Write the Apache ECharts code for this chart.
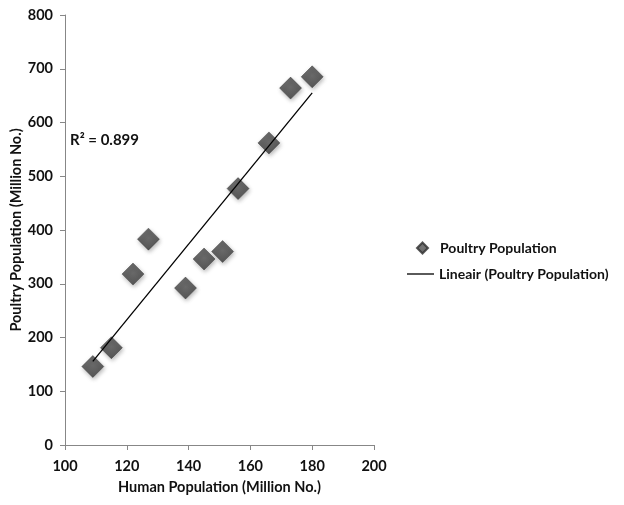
<!DOCTYPE html>
<html>
<head>
<meta charset="utf-8">
<script src="https://cdn.jsdelivr.net/npm/echarts@6/dist/echarts.min.js"></script>
<style>html,body{margin:0;padding:0;background:#fff}#c{width:624px;height:505px}</style>
</head>
<body>
<div id="c"></div>
<script>
var humanPopulation = [109, 115, 122, 127, 139, 145, 151, 156, 166, 173, 180];
var poultryPopulation = [146, 181, 318, 383, 292, 346, 360, 477, 562, 664, 685];
var xTicks = [100, 120, 140, 160, 180, 200];
var yTicks = [0, 100, 200, 300, 400, 500, 600, 700, 800];
var rSquaredLabel = 'R² = 0.899';
var seriesName = 'Poultry Population';
var trendName = 'Lineair (Poultry Population)';

// least-squares trend line computed from the data
var n = humanPopulation.length, mx = 0, my = 0;
for (var i = 0; i < n; i++) { mx += humanPopulation[i]; my += poultryPopulation[i]; }
mx /= n; my /= n;
var sxy = 0, sxx = 0;
for (var i = 0; i < n; i++) { sxy += (humanPopulation[i]-mx)*(poultryPopulation[i]-my); sxx += (humanPopulation[i]-mx)*(humanPopulation[i]-mx); }
var slope = sxy / sxx, intercept = my - slope * mx;
var xMin = Math.min.apply(null, humanPopulation), xMax = Math.max.apply(null, humanPopulation);
var trend = [[xMin, intercept + slope * xMin], [xMax, intercept + slope * xMax]];

var font = 'Lato';
var chart = echarts.init(document.getElementById('c'), null, {renderer: 'canvas'});
chart.setOption({
  animation: false,
  backgroundColor: '#fff',
  grid: {left: 65, right: 250, top: 15, bottom: 60, containLabel: false},
  xAxis: {
    type: 'value', min: xTicks[0], max: xTicks[xTicks.length-1], interval: 20,
    name: 'Human Population (Million No.)', nameLocation: 'middle', nameGap: 35,
    nameTextStyle: {fontFamily: font, fontWeight: 'bold', fontSize: 14.5, color: '#111'},
    axisLine: {lineStyle: {color: '#878787', width: 1}},
    axisTick: {show: true, length: 5, lineStyle: {color: '#878787'}},
    axisLabel: {fontFamily: font, fontWeight: 'bold', fontSize: 14.5, color: '#111', margin: 14},
    splitLine: {show: false}
  },
  yAxis: {
    type: 'value', min: yTicks[0], max: yTicks[yTicks.length-1], interval: 100,
    name: 'Poultry Population (Million No.)', nameLocation: 'middle', nameGap: 34,
    nameTextStyle: {fontFamily: font, fontWeight: 'bold', fontSize: 14.5, color: '#111'},
    axisLine: {show: true, lineStyle: {color: '#878787', width: 1}},
    axisTick: {show: true, length: 5, lineStyle: {color: '#878787'}},
    axisLabel: {fontFamily: font, fontWeight: 'bold', fontSize: 14.5, color: '#111', margin: 12},
    splitLine: {show: false}
  },
  legend: [{
    data: [{name: seriesName, icon: 'diamond'}],
    orient: 'vertical', left: 411, top: 236, itemWidth: 11, itemHeight: 11,
    textStyle: {fontFamily: font, fontWeight: 'bold', fontSize: 14, color: '#111', padding: [0,0,0,7]}
  }, {
    data: [{name: trendName, icon: 'rect', itemStyle: {color: '#000'}}],
    orient: 'vertical', left: 402, top: 262, itemWidth: 27, itemHeight: 1.3,
    textStyle: {fontFamily: font, fontWeight: 'bold', fontSize: 14, color: '#111'}
  }],
  graphic: [{
    type: 'text', left: 70, top: 133,
    style: {text: rSquaredLabel, font: 'bold 15px Lato', fill: '#111'}
  }],
  series: [{
    name: seriesName, type: 'scatter', symbol: 'diamond', symbolSize: 22,
    data: humanPopulation.map(function (x, i) { return [x, poultryPopulation[i]]; }),
    itemStyle: {
      color: {type: 'radial', x: 0.5, y: 0.45, r: 0.6, colorStops: [{offset: 0, color: '#555'}, {offset: 0.7, color: '#404040'}, {offset: 1, color: '#262626'}]},
      borderColor: '#303030', borderWidth: 0.5,
      shadowBlur: 4, shadowColor: 'rgba(0,0,0,0.35)', shadowOffsetX: 1, shadowOffsetY: 2
    },
    z: 2
  }, {
    name: trendName, type: 'line', data: trend, symbol: 'none',
    lineStyle: {color: '#000', width: 1.3}, itemStyle: {color: '#000'}, z: 3
  }]
});
</script>
</body>
</html>
